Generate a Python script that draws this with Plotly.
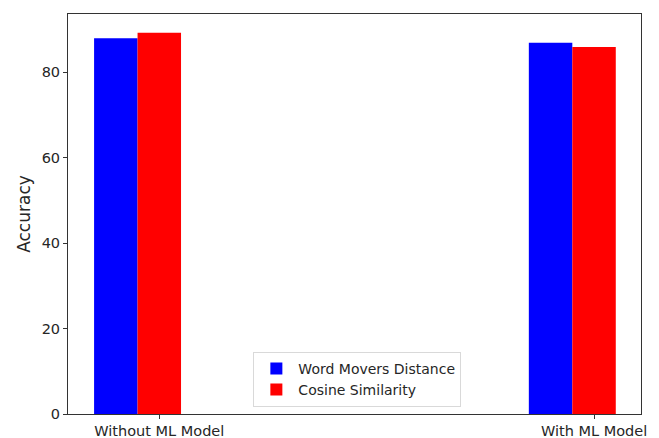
import plotly.graph_objects as go

categories = ["Without ML Model", "With ML Model"]
wmd_values = [87.9, 86.9]
cos_values = [89.2, 85.9]
series_names = ["Word Movers Distance", "Cosine Similarity"]

bar_w = 0.1
pos = [0, 1]

fig = go.Figure()
fig.add_trace(go.Bar(x=[p for p in pos], y=wmd_values, width=bar_w, name=series_names[0],
                     marker=dict(color="#0000ff", line=dict(width=0))))
fig.add_trace(go.Bar(x=[p + bar_w for p in pos], y=cos_values, width=bar_w, name=series_names[1],
                     marker=dict(color="#ff0000", line=dict(width=0))))

axis_common = dict(showline=True, linecolor="#333333", linewidth=1, mirror=True,
                   ticks="outside", ticklen=4, tickcolor="#333333", showgrid=False,
                   zeroline=False, automargin=False,
                   tickfont=dict(size=14.5, color="#262626"))

fig.update_layout(
    width=659, height=438,
    margin=dict(l=68, r=18, t=14, b=24),
    paper_bgcolor="white", plot_bgcolor="white",
    font=dict(family="DejaVu Sans", color="#262626"),
    barmode="overlay",
    xaxis=dict(range=[-0.11, 1.208], tickvals=[p + bar_w for p in pos], ticktext=categories, **axis_common),
    yaxis=dict(range=[0, 93.6], tickvals=[0, 20, 40, 60, 80],
               title=dict(text="Accuracy", font=dict(size=17), standoff=6), **axis_common),
    legend=dict(x=0.505, xanchor="center", y=0.018, yanchor="bottom",
                bordercolor="#d9d9d9", borderwidth=1, bgcolor="rgba(255,255,255,0.8)",
                font=dict(size=14), itemwidth=34, tracegroupgap=0),
    showlegend=True,
)

fig.write_html("out.html", config={"displayModeBar": False},
               post_script="document.body.style.margin='0';document.body.style.overflow='hidden';")
